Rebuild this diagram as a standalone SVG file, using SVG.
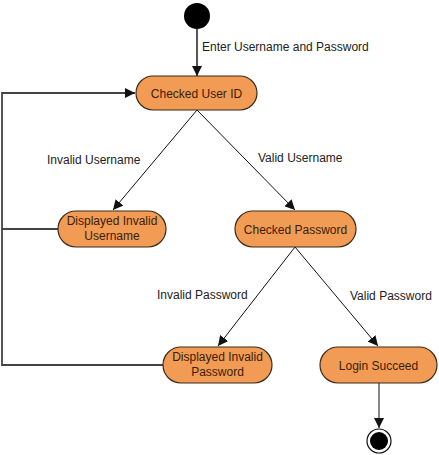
<svg xmlns="http://www.w3.org/2000/svg" width="439" height="455" viewBox="0 0 439 455">
<style>
.node rect{fill:#F29B55;stroke:#3a2a1a;stroke-width:1.2}
.node text{font-family:"Liberation Sans",Arial,sans-serif;font-size:12px;fill:#3b1d05;text-anchor:middle}
.lbl{font-family:"Liberation Sans",Arial,sans-serif;font-size:12px;fill:#222}
.c{fill:none;stroke:#111;stroke-width:1}
.g{fill:none;stroke:#444;stroke-width:1.8}
</style>
<defs>
<marker id="ah" viewBox="0 0 10 10" refX="10" refY="5" markerWidth="10" markerHeight="10" markerUnits="userSpaceOnUse" orient="auto">
<path d="M0,0 L10,5 L0,10 z" fill="#111"/>
</marker>
</defs>
<g id="connectors">
<line class="g" x1="197" y1="29" x2="197" y2="76" marker-end="url(#ah)"/>
<polyline class="g" points="58,229 2,229 2,93 135,93" marker-end="url(#ah)"/>
<polyline class="g" points="163,365 2,365 2,229"/>
<line class="c" x1="197" y1="110" x2="113" y2="210" marker-end="url(#ah)"/>
<line class="c" x1="197" y1="110" x2="295" y2="210" marker-end="url(#ah)"/>
<line class="c" x1="295" y1="247" x2="218" y2="346" marker-end="url(#ah)"/>
<line class="c" x1="295" y1="247" x2="378" y2="346" marker-end="url(#ah)"/>
<line class="c" x1="379" y1="383" x2="379" y2="428" marker-end="url(#ah)"/>
<text class="lbl" x="202" y="51">Enter Username and Password</text>
<text class="lbl" x="47" y="164">Invalid Username</text>
<text class="lbl" x="258" y="162">Valid Username</text>
<text class="lbl" x="157" y="299">Invalid Password</text>
<text class="lbl" x="350" y="300">Valid Password</text>
</g>
<g id="start"><circle cx="197" cy="16" r="13" fill="#000"/></g>
<g id="checkedUserId" class="node"><rect x="136" y="76" width="121" height="34" rx="17"/><text x="196.5" y="97.5">Checked User ID</text></g>
<g id="displayedInvalidUsername" class="node"><rect x="58" y="211" width="108" height="36" rx="18"/><text x="112" y="225">Displayed Invalid</text><text x="112" y="240">Username</text></g>
<g id="checkedPassword" class="node"><rect x="235" y="211" width="121" height="36" rx="18"/><text x="295.5" y="233.5">Checked Password</text></g>
<g id="displayedInvalidPassword" class="node"><rect x="163" y="347" width="109" height="36" rx="18"/><text x="217.5" y="361">Displayed Invalid</text><text x="217.5" y="376">Password</text></g>
<g id="loginSucceed" class="node"><rect x="320" y="347" width="117" height="36" rx="18"/><text x="378.5" y="369.5">Login Succeed</text></g>
<g id="end"><circle cx="379" cy="441" r="12" fill="#fff" stroke="#111" stroke-width="1.2"/><circle cx="379" cy="441" r="9" fill="#000"/></g>
</svg>
